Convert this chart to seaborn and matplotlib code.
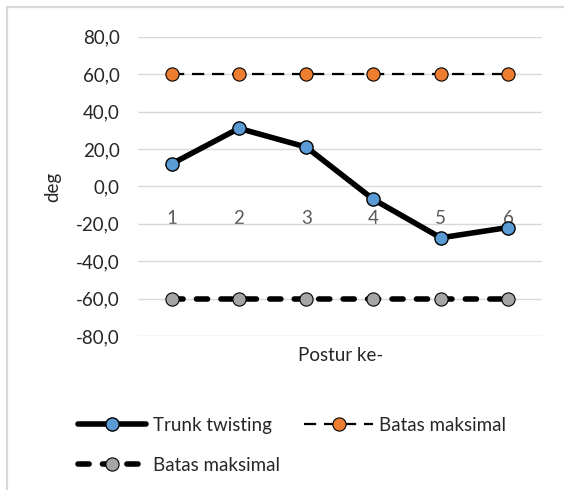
import matplotlib
matplotlib.use('Agg')
import matplotlib.pyplot as plt
import matplotlib.patches as mpatches
from matplotlib.ticker import FuncFormatter
import pandas as pd
import seaborn as sns

postur = [1, 2, 3, 4, 5, 6]
trunk_twisting = [12.0, 31.0, 21.0, -7.0, -27.5, -22.0]
batas_atas = [60.0, 60.0, 60.0, 60.0, 60.0, 60.0]
batas_bawah = [-60.0, -60.0, -60.0, -60.0, -60.0, -60.0]

df_trunk = pd.DataFrame({'Postur ke-': postur, 'deg': trunk_twisting})
df_atas = pd.DataFrame({'Postur ke-': postur, 'deg': batas_atas})
df_bawah = pd.DataFrame({'Postur ke-': postur, 'deg': batas_bawah})

sns.set_style('white')
plt.rcParams['font.family'] = ['Lato', 'DejaVu Sans']
fs = 13.5

fig = plt.figure(figsize=(5.64, 4.90), dpi=100)
ax = fig.add_axes([138 / 564, 1 - 336 / 490, (541.7 - 138) / 564, (336 - 36.7) / 490])

grid_c = '#D9D9D9'

# outer chart border (Excel style)
fig.patches.append(mpatches.Rectangle((7 / 564, -0.1), 1.2, 1 - 7 / 490 + 0.1,
                                      transform=fig.transFigure, fill=False,
                                      edgecolor=grid_c, linewidth=1.6))

sns.lineplot(data=df_bawah, x='Postur ke-', y='deg', ax=ax, color='black',
             linewidth=4.0, linestyle=(0, (2.0, 2.4)), dash_capstyle='round',
             marker='o', markersize=9.5,
             markerfacecolor='#A5A5A5', markeredgecolor='black', markeredgewidth=0.8,
             label='Batas maksimal', errorbar=None, zorder=3)
sns.lineplot(data=df_atas, x='Postur ke-', y='deg', ax=ax, color='black',
             linewidth=1.6, linestyle=(0, (5.5, 3.5)), marker='o', markersize=9.5,
             markerfacecolor='#ED7D31', markeredgecolor='black', markeredgewidth=0.8,
             label='Batas maksimal', errorbar=None, zorder=3)
sns.lineplot(data=df_trunk, x='Postur ke-', y='deg', ax=ax, color='black',
             linewidth=4.0, marker='o', markersize=9.5,
             markerfacecolor='#5B9BD5', markeredgecolor='black', markeredgewidth=1.0,
             label='Trunk twisting', errorbar=None, zorder=4)

ax.set_xlim(0.5, 6.5)
ax.set_ylim(-80, 80)
ax.set_yticks(range(-80, 81, 20))
ax.yaxis.set_major_formatter(FuncFormatter(lambda v, p: f'{v:.1f}'.replace('.', ',')))
ax.set_xticks(postur)
ax.set_xticklabels([str(p) for p in postur])

for s in ax.spines.values():
    s.set_visible(False)
ax.spines['bottom'].set_position(('data', 0))

ax.grid(axis='y', color=grid_c, linewidth=1.0)
ax.set_axisbelow(True)
ax.tick_params(axis='y', length=0, pad=13, labelsize=fs, labelcolor='#262626')
ax.tick_params(axis='x', length=0, pad=17, labelsize=fs, labelcolor='#595959')

ax.set_xlabel('')
ax.set_ylabel('')
fig.text(53 / 564, 1 - 187 / 490, 'deg', rotation=90, ha='center', va='center',
         fontsize=fs, color='#262626')
fig.text(341 / 564, 1 - 355 / 490, 'Postur ke-', ha='center', va='center',
         fontsize=fs, color='#262626')

handles, labels = ax.get_legend_handles_labels()
# order: Trunk twisting, gray, orange -> fills rows as Trunk | orange / gray
order = [2, 0, 1]
ax.legend([handles[i] for i in order], [labels[i] for i in order],
          ncol=2, frameon=False, fontsize=fs, handlelength=3.65, handletextpad=0.35,
          columnspacing=1.3, labelspacing=1.2, borderaxespad=0, borderpad=0,
          loc='upper left', bbox_to_anchor=(78 / 564, 1 - 417 / 490),
          bbox_transform=fig.transFigure)

fig.savefig('out.png', dpi=100)
